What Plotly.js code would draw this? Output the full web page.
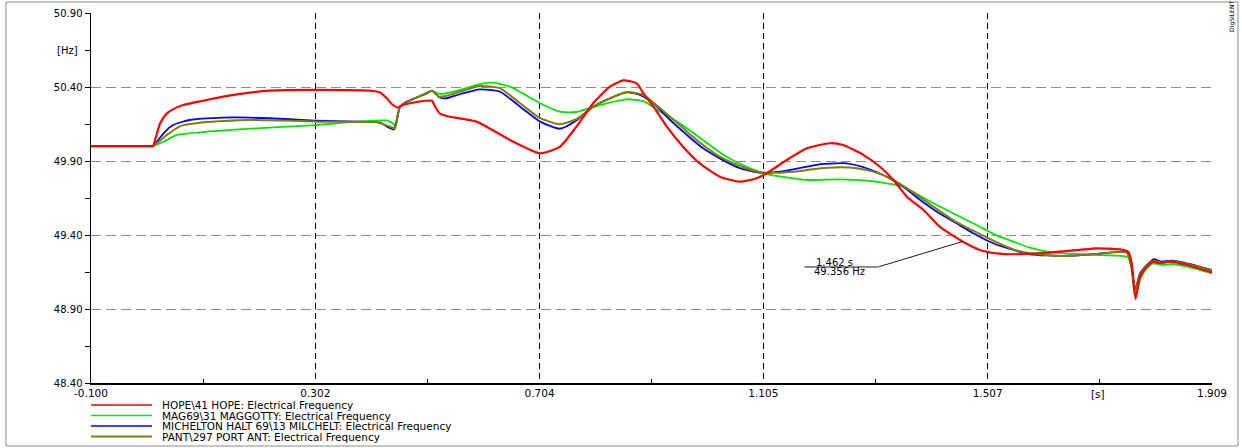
<!DOCTYPE html>
<html><head><meta charset="utf-8">
<script src="https://cdn.plot.ly/plotly-3.0.1.min.js"></script>
<style>html,body{margin:0;padding:0;background:#fff}#chart{width:1242px;height:448px}</style>
</head><body><div id="chart"></div>
<script>
// ---------- data (time in s, frequency in Hz) ----------
const seriesNames = [
  "HOPE\\41 HOPE: Electrical Frequency",
  "MAG69\\31 MAGGOTTY: Electrical Frequency",
  "MICHELTON HALT 69\\13 MILCHELT: Electrical Frequency",
  "PANT\\297 PORT ANT: Electrical Frequency"
];
const seriesColors = ["#ff0000", "#00e600", "#0000ff", "#808000"];

const tHope = [-0.100,0.009,0.011,0.024,0.036,0.047,0.065,0.107,0.167,0.221,0.304,0.405,0.418,0.430,0.439,0.450,0.459,0.472,0.502,0.511,0.518,0.525,0.537,0.591,0.651,0.705,0.740,0.770,0.800,0.830,0.854,0.878,0.890,0.908,0.932,0.961,0.991,1.027,1.063,1.093,1.111,1.147,1.183,1.224,1.248,1.284,1.314,1.338,1.362,1.392,1.421,1.462,1.493,1.523,1.553,1.613,1.672,1.702,1.744,1.759,1.765,1.772,1.780,1.792,1.804,1.816,1.834,1.864,1.905,1.909];
const fHope = [50.00,50.00,50.00,50.155,50.222,50.249,50.278,50.312,50.353,50.375,50.380,50.373,50.363,50.324,50.285,50.261,50.278,50.290,50.307,50.307,50.258,50.222,50.204,50.166,50.042,49.952,49.995,50.132,50.290,50.402,50.445,50.425,50.357,50.267,50.132,49.997,49.884,49.794,49.760,49.783,49.817,49.907,49.986,50.020,50.008,49.941,49.861,49.772,49.659,49.569,49.456,49.356,49.299,49.276,49.270,49.280,49.299,49.310,49.303,49.287,49.211,48.968,49.118,49.186,49.220,49.209,49.220,49.197,49.152,49.147];

const tMag = [-0.100,0.009,0.011,0.030,0.054,0.107,0.197,0.304,0.376,0.430,0.439,0.445,0.454,0.502,0.511,0.525,0.561,0.597,0.621,0.651,0.705,0.740,0.770,0.812,0.860,0.890,0.920,0.950,0.979,1.009,1.039,1.075,1.111,1.147,1.183,1.242,1.290,1.326,1.356,1.386,1.416,1.451,1.487,1.523,1.553,1.583,1.613,1.642,1.672,1.702,1.750,1.759,1.765,1.771,1.780,1.792,1.804,1.819,1.837,1.864,1.905,1.909];
const fMag = [50.00,50.00,50.00,50.030,50.076,50.098,50.121,50.143,50.166,50.174,50.160,50.143,50.267,50.361,50.375,50.353,50.380,50.420,50.429,50.402,50.290,50.233,50.231,50.278,50.317,50.304,50.233,50.166,50.091,50.008,49.929,49.861,49.812,49.790,49.772,49.776,49.767,49.749,49.726,49.664,49.603,49.535,49.468,49.397,49.355,49.314,49.287,49.276,49.270,49.265,49.258,49.249,49.164,48.981,49.096,49.175,49.209,49.197,49.204,49.186,49.145,49.140];

const tMich = [-0.100,0.009,0.011,0.030,0.047,0.077,0.137,0.185,0.257,0.304,0.376,0.418,0.436,0.443,0.454,0.466,0.502,0.511,0.525,0.537,0.561,0.597,0.633,0.669,0.705,0.740,0.770,0.800,0.830,0.860,0.884,0.908,0.938,0.968,0.997,1.027,1.063,1.099,1.135,1.171,1.212,1.254,1.290,1.326,1.356,1.386,1.416,1.451,1.481,1.517,1.553,1.583,1.642,1.702,1.756,1.765,1.771,1.780,1.792,1.804,1.819,1.837,1.864,1.905,1.909];
const fMich = [50.00,50.00,50.00,50.087,50.143,50.177,50.193,50.193,50.182,50.172,50.166,50.159,50.121,50.113,50.267,50.301,50.357,50.375,50.330,50.324,50.351,50.384,50.368,50.267,50.166,50.118,50.174,50.267,50.324,50.364,50.346,50.290,50.177,50.076,49.986,49.918,49.851,49.821,49.828,49.853,49.880,49.884,49.851,49.794,49.726,49.636,49.557,49.479,49.412,49.344,49.299,49.270,49.258,49.272,49.283,49.186,49.028,49.141,49.197,49.236,49.220,49.226,49.209,49.168,49.163];

const tPant = [-0.100,0.009,0.011,0.036,0.060,0.095,0.137,0.185,0.257,0.304,0.376,0.412,0.436,0.445,0.454,0.502,0.511,0.525,0.561,0.597,0.633,0.669,0.705,0.740,0.770,0.800,0.860,0.890,0.908,0.938,0.968,0.997,1.027,1.063,1.099,1.135,1.171,1.194,1.242,1.272,1.302,1.338,1.374,1.410,1.445,1.481,1.517,1.553,1.583,1.642,1.702,1.756,1.765,1.771,1.780,1.792,1.804,1.819,1.837,1.864,1.905,1.909];
const fPant = [50.00,50.00,50.00,50.076,50.136,50.159,50.170,50.177,50.172,50.166,50.166,50.161,50.132,50.121,50.267,50.361,50.375,50.334,50.368,50.407,50.391,50.290,50.189,50.149,50.182,50.267,50.366,50.346,50.294,50.199,50.098,50.008,49.929,49.866,49.824,49.821,49.832,49.844,49.857,49.851,49.828,49.772,49.686,49.591,49.501,49.429,49.362,49.303,49.276,49.258,49.272,49.280,49.184,49.022,49.130,49.193,49.226,49.213,49.222,49.204,49.164,49.159];

const xTickVals = [-0.100, 0.302, 0.704, 1.105, 1.507, 1.909];
const xTickText = ["-0.100", "0.302", "0.704", "1.105", "1.507", "1.909"];
const xMinorVals = [0.101, 0.503, 0.904, 1.306, 1.708];
const yTickVals = [48.40, 48.90, 49.40, 49.90, 50.40, 50.90];
const yTickText = ["48.40", "48.90", "49.40", "49.90", "50.40", "50.90"];
const yMinorVals = [48.65, 49.15, 49.65, 50.15, 50.65];
const xUnitLabel = "[s]", xUnitPos = 1.708;
const yUnitLabel = "[Hz]", yUnitPos = 50.65;
const cursorT = 1.462, cursorF = 49.356;
const cursorTextT = "1.462 s", cursorTextF = "49.356 Hz";
const logoText = "DIgSILENT";

// ---------- layout geometry ----------
const W = 1242, H = 448, ML = 91, MR = 30, MT = 13, MB = 65;
const PW = W - ML - MR, PH = H - MT - MB;
const px2x = p => (p - ML) / PW;          // pixel -> paper x
const px2y = p => (H - MB - p) / PH;      // pixel -> paper y
const FONT = "DejaVu Sans, Verdana, Arial, sans-serif";

const series = [
  {t: tMag,  f: fMag,  i: 1, w: 1.8},
  {t: tMich, f: fMich, i: 2, w: 1.8},
  {t: tPant, f: fPant, i: 3, w: 2.0},
  {t: tHope, f: fHope, i: 0, w: 2.2}
];
const traces = series.map(s => ({
  type: "scatter", mode: "lines", x: s.t, y: s.f, name: seriesNames[s.i],
  line: {color: seriesColors[s.i], width: s.w, shape: "spline", smoothing: 0.55}, hoverinfo: "skip"
}));

const shapes = [];
const annotations = [];

// outer frame
shapes.push({type: "rect", xref: "paper", yref: "paper",
  x0: px2x(6), x1: px2x(1238), y0: px2y(446), y1: px2y(2),
  line: {color: "#8a8a8a", width: 1}, fillcolor: "rgba(0,0,0,0)", layer: "below"});

// manual legend
const legendRowsPx = [405, 415.5, 426, 436.5];
seriesNames.forEach((nm, i) => {
  shapes.push({type: "line", xref: "paper", yref: "paper",
    x0: px2x(91), x1: px2x(152), y0: px2y(legendRowsPx[i]), y1: px2y(legendRowsPx[i]),
    line: {color: seriesColors[i], width: i === 3 ? 2.2 : 1.3}});
  annotations.push({xref: "paper", yref: "paper", x: px2x(161), y: px2y(legendRowsPx[i]),
    xanchor: "left", yanchor: "middle", showarrow: false, text: nm,
    font: {family: FONT, size: 10.5, color: "#000"}, borderpad: 0});
});

// unit labels
annotations.push({xref: "paper", yref: "y", x: px2x(79), y: yUnitPos, xanchor: "right", yanchor: "middle",
  showarrow: false, text: yUnitLabel, font: {family: FONT, size: 10, color: "#000"}, borderpad: 0});
annotations.push({xref: "paper", yref: "paper", x: px2x(1098), y: px2y(393.5), xanchor: "center", yanchor: "middle",
  showarrow: false, text: xUnitLabel, font: {family: FONT, size: 10.5, color: "#000"}, borderpad: 0});

// logo
annotations.push({xref: "paper", yref: "paper", x: px2x(1232), y: px2y(17), xanchor: "center", yanchor: "middle",
  showarrow: false, text: logoText, textangle: -90, font: {family: FONT, size: 6, color: "#000"}, borderpad: 0});

// cursor readout
const cpx = ML + (cursorT + 0.1) / 2.009 * PW;
const cpy = MT + (50.90 - cursorF) / 2.5 * PH;
annotations.push({x: cursorT, y: cursorF, xref: "x", yref: "y", showarrow: false, text: cursorTextT,
  xshift: 834 - cpx, yshift: -(262.5 - cpy), font: {family: FONT, size: 10, color: "#000"}, borderpad: 0});
annotations.push({x: cursorT, y: cursorF, xref: "x", yref: "y", showarrow: false, text: cursorTextF,
  xshift: 839 - cpx, yshift: -(272 - cpy), font: {family: FONT, size: 10, color: "#000"}, borderpad: 0});
// connector line
annotations.push({x: cursorT, y: cursorF, xref: "x", yref: "y", showarrow: true, arrowhead: 0,
  arrowwidth: 0.9, arrowcolor: "#000", ax: 878 - cpx, ay: 267 - cpy, text: "", font: {size: 1}, borderpad: 0});
// underline
annotations.push({x: cursorT, y: cursorF, xref: "x", yref: "y", showarrow: true, arrowhead: 0,
  arrowwidth: 0.9, arrowcolor: "#000", xshift: 878 - cpx, yshift: -(267 - cpy), ax: -74, ay: 0,
  text: "", font: {size: 1}, borderpad: 0});

const layout = {
  width: W, height: H,
  margin: {l: ML, r: MR, t: MT, b: MB, pad: 0},
  paper_bgcolor: "#fff", plot_bgcolor: "#fff",
  showlegend: false,
  font: {family: FONT, size: 11, color: "#000"},
  xaxis: {
    range: [-0.100, 1.909], tickmode: "array", tickvals: xTickVals, ticktext: xTickText,
    showgrid: true, gridcolor: "#000", gridwidth: 1, griddash: "6px,4px",
    ticks: "", showline: true, linecolor: "#000", linewidth: 1.5, zeroline: false,
    ticklabelstandoff: 0,
    tickfont: {family: FONT, size: 10.5, color: "#000"},
    minor: {tickmode: "array", tickvals: xMinorVals, ticks: "inside", ticklen: 4, tickcolor: "#000", showgrid: false}
  },
  yaxis: {
    range: [48.40, 50.90], tickmode: "array", tickvals: yTickVals, ticktext: yTickText,
    showgrid: true, gridcolor: "#8c8c8c", gridwidth: 1, griddash: "10px,5px",
    ticks: "outside", ticklen: 5, tickcolor: "#000", showline: true, linecolor: "#000", linewidth: 1.5,
    zeroline: false, tickfont: {family: FONT, size: 10, color: "#000"},
    minor: {tickmode: "array", tickvals: yMinorVals, ticks: "outside", ticklen: 5, tickcolor: "#000", showgrid: false}
  },
  shapes: shapes,
  annotations: annotations
};

Plotly.newPlot("chart", traces, layout, {staticPlot: true, displayModeBar: false});
</script></body></html>
